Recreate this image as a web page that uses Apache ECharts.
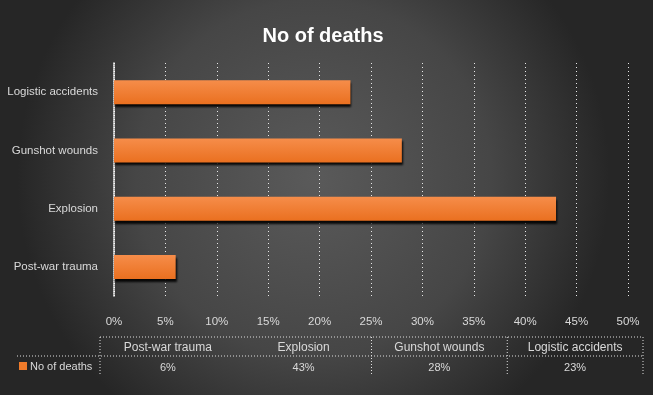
<!DOCTYPE html>
<html>
<head>
<meta charset="utf-8">
<script src="https://cdn.jsdelivr.net/npm/echarts@6/dist/echarts.min.js"></script>
<style>
html,body{margin:0;padding:0;background:#fff;}
#c{width:659px;height:413px;}
</style>
</head>
<body>
<div id="c"></div>
<script>
var categories = ['Post-war trauma', 'Explosion', 'Gunshot wounds', 'Logistic accidents'];
var values = [6, 43, 28, 23];
var seriesName = 'No of deaths';
var titleText = 'No of deaths';

var chart = echarts.init(document.getElementById('c'));
var txt = '#d9d9d9';
var font = '"Liberation Sans", Arial, sans-serif';

var tblLeft = 100, tblRight = 643, tblTop = 337, tblMid = 356, tblBottom = 376;
var colW = (tblRight - tblLeft) / categories.length;
var g = [];
g.push({type:'rect', z:-10, silent:true, shape:{x:0,y:0,width:653,height:395},
  style:{fill:{type:'radial',x:0.48,y:0.45,r:0.75,colorStops:[{offset:0,color:'#5a5a5a'},{offset:0.6,color:'#464646'},{offset:1,color:'#262626'}]}}});
var dash = {stroke:'#e0e0e0', lineWidth:1, lineDash:[1,2]};
g.push({type:'line', shape:{x1:tblLeft,y1:tblTop,x2:tblRight,y2:tblTop}, style:dash});
g.push({type:'line', shape:{x1:17,y1:tblMid,x2:tblRight,y2:tblMid}, style:dash});
g.push({type:'line', shape:{x1:tblLeft,y1:tblTop,x2:tblLeft,y2:tblBottom}, style:dash});
for (var i = 0; i < categories.length; i++) {
  var xr = tblLeft + colW * (i + 1);
  if (i > 0) g.push({type:'line', shape:{x1:xr,y1:tblTop,x2:xr,y2:tblBottom}, style:dash});
  var cx = tblLeft + colW * (i + 0.5);
  g.push({type:'text', x:cx, y:348, style:{text:categories[i], fill:txt, font:'12px '+font, align:'center', verticalAlign:'middle'}});
  g.push({type:'text', x:cx, y:368, style:{text:values[i]+'%', fill:txt, font:'11px '+font, align:'center', verticalAlign:'middle'}});
}
g.push({type:'rect', shape:{x:19,y:362,width:8,height:8}, style:{fill:'#f07b2a'}});
g.push({type:'text', x:30, y:367, style:{text:seriesName, fill:txt, font:'11px '+font, verticalAlign:'middle'}});

chart.setOption({
  backgroundColor:'#ffffff',
  animation:false,
  title:{text:titleText, left:318, top:21, textAlign:'center',
    textStyle:{color:'#ffffff', fontSize:20, fontWeight:'bold', fontFamily:font}},
  grid:{left:114, right:31, top:63, bottom:117},
  xAxis:{type:'value', min:0, max:50, interval:5,
    axisLabel:{formatter:'{value}%', color:txt, fontSize:11.5, fontFamily:font, margin:20},
    axisLine:{show:false}, axisTick:{show:false},
    splitLine:{show:true, lineStyle:{color:'#e8e8e8', type:[1,3], width:1}}},
  yAxis:{type:'category', data:categories,
    axisLabel:{color:txt, fontSize:11.5, fontFamily:font, margin:16},
    axisLine:{show:true, lineStyle:{color:'#ffffff', type:[1,1], width:1.5}},
    axisTick:{show:false}},
  series:[{type:'bar', name:seriesName, data:values, barWidth:24,
    itemStyle:{color:{type:'linear',x:0,y:0,x2:0,y2:1,colorStops:[{offset:0,color:'#f68d4a'},{offset:1,color:'#ea7020'}]},
      shadowColor:'rgba(0,0,0,0.9)', shadowOffsetY:3, shadowOffsetX:1, shadowBlur:2}}],
  graphic:g
});
</script>
</body>
</html>
